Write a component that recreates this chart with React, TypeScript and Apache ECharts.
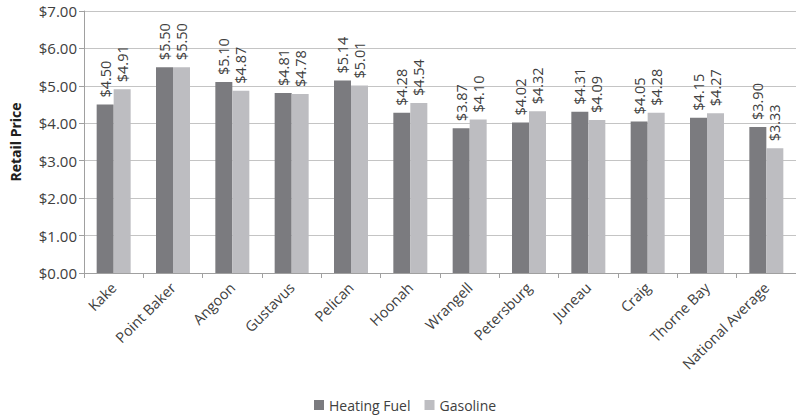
import React, { useEffect, useRef } from "react";
import * as echarts from "echarts";

const categories = ["Kake", "Point Baker", "Angoon", "Gustavus", "Pelican", "Hoonah", "Wrangell", "Petersburg", "Juneau", "Craig", "Thorne Bay", "National Average"];
const heatingFuel = [4.5, 5.5, 5.1, 4.81, 5.14, 4.28, 3.87, 4.02, 4.31, 4.05, 4.15, 3.9];
const gasoline = [4.91, 5.5, 4.87, 4.78, 5.01, 4.54, 4.1, 4.32, 4.09, 4.28, 4.27, 3.33];
const seriesNames = ["Heating Fuel", "Gasoline"];

const FONT = "'Open Sans', 'Noto Sans', sans-serif";

export default function App() {
  const ref = useRef<HTMLDivElement>(null);
  useEffect(() => {
    document.body.style.margin = "0";
    const chart = echarts.init(ref.current!, undefined, { renderer: "svg" });
    const label = {
      show: true,
      position: "top",
      rotate: 90,
      align: "left",
      verticalAlign: "middle",
      distance: 7,
      color: "#404040",
      fontSize: 14.5,
      fontFamily: FONT,
      formatter: (p: any) => "$" + Number(p.value).toFixed(2),
    };
    chart.setOption({
      animation: false,
      textStyle: { fontFamily: FONT },
      grid: { left: 81, right: -5, top: 11, bottom: 145, containLabel: false },
      legend: {
        data: seriesNames,
        left: 309,
        top: 393,
        itemWidth: 10,
        itemHeight: 10,
        itemGap: 14,
        icon: "rect",
        textStyle: { fontSize: 14, color: "#404040", fontFamily: FONT },
      },
      xAxis: {
        type: "category",
        data: categories,
        axisLine: { lineStyle: { color: "#a0a0a0" } },
        axisTick: { show: true, length: 5, lineStyle: { color: "#a0a0a0" } },
        axisLabel: { rotate: 45, fontSize: 14.5, color: "#404040", margin: 12, interval: 0, fontFamily: FONT },
      },
      yAxis: {
        type: "value",
        min: 0,
        max: 7,
        interval: 1,
        name: "Retail Price",
        nameLocation: "middle",
        nameGap: 62,
        nameTextStyle: { fontWeight: "bold", fontSize: 14, color: "#202020", fontFamily: FONT },
        axisLine: { show: true, lineStyle: { color: "#a0a0a0" } },
        axisTick: { show: true, length: 5, lineStyle: { color: "#a0a0a0" } },
        splitLine: { lineStyle: { color: "#c4c4c4" } },
        axisLabel: {
          fontSize: 15,
          color: "#404040",
          margin: 7,
          fontFamily: FONT,
          formatter: (v: number) => "$" + v.toFixed(2),
        },
      },
      series: [
        {
          name: seriesNames[0],
          type: "bar",
          data: heatingFuel,
          barWidth: 17,
          barGap: "0%",
          itemStyle: { color: "#7b7b7f" },
          label,
        },
        {
          name: seriesNames[1],
          type: "bar",
          data: gasoline,
          barWidth: 17,
          barGap: "0%",
          itemStyle: { color: "#bdbdc1" },
          label,
        },
      ],
    });
    return () => chart.dispose();
  }, []);
  return <div ref={ref} style={{ width: 796, height: 418 }} />;
}
